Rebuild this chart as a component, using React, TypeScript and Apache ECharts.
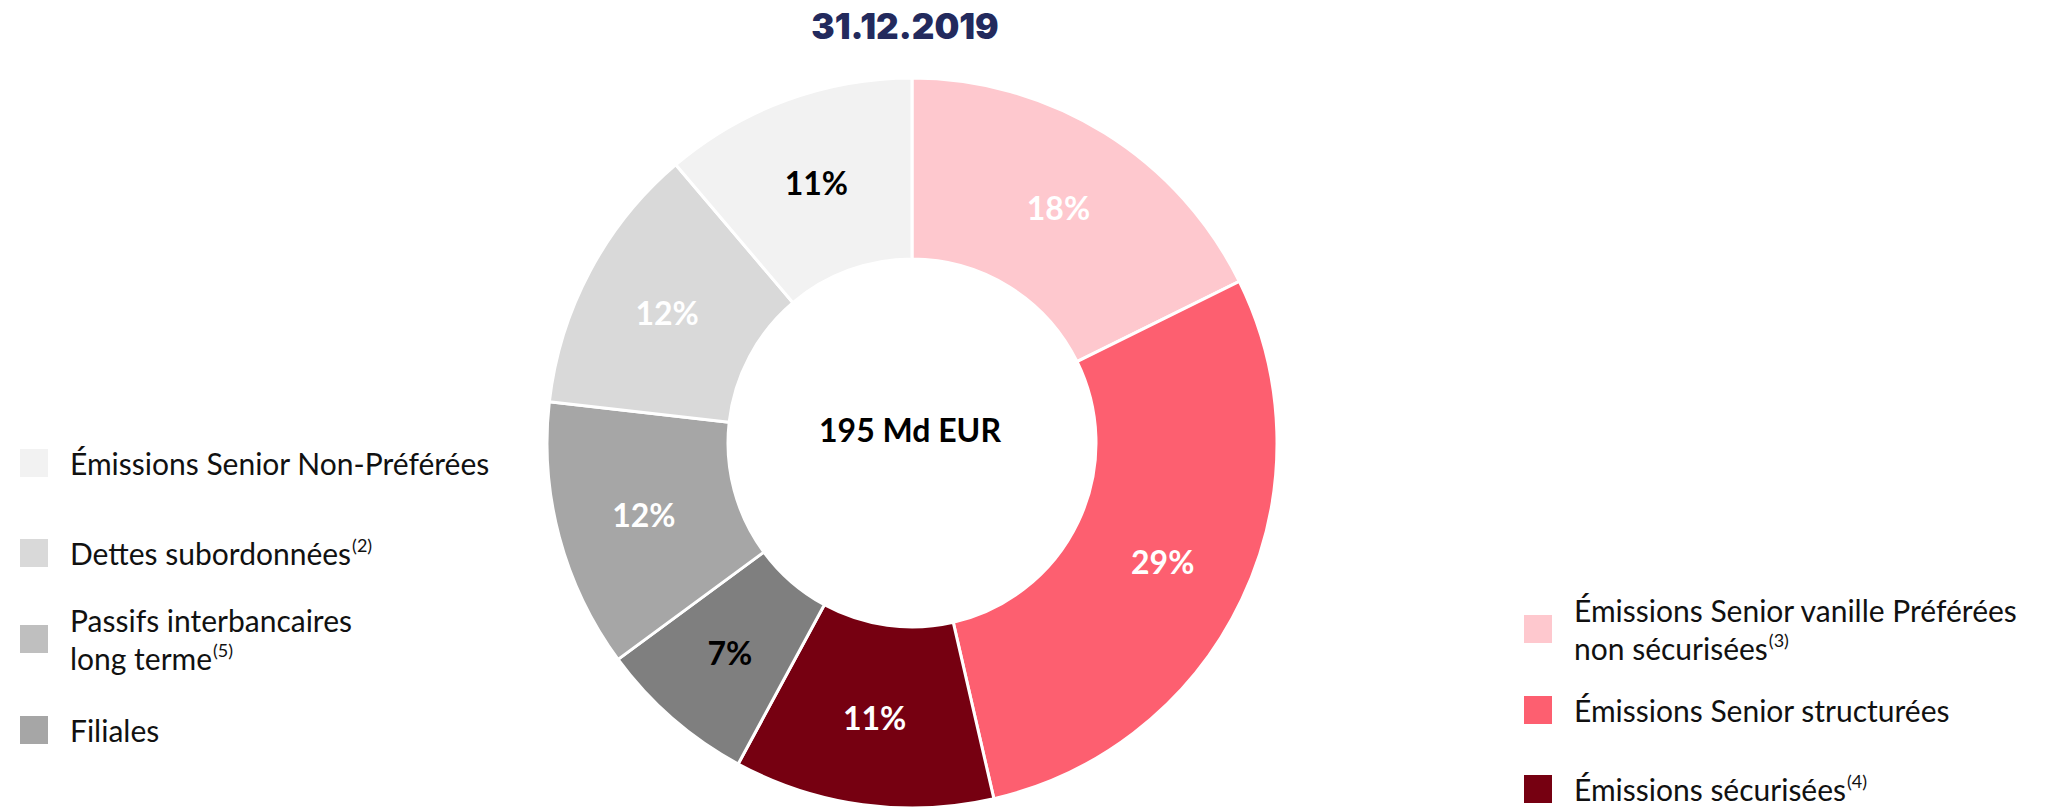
import React, { useEffect, useRef } from "react";
import * as echarts from "echarts";

const categories = [
  "Émissions Senior vanille Préférées non sécurisées",
  "Émissions Senior structurées",
  "Émissions sécurisées",
  "Filiales",
  "Passifs interbancaires long terme",
  "Dettes subordonnées",
  "Émissions Senior Non-Préférées",
];
const legendLines = [
  "Émissions Senior vanille Préférées\nnon sécurisées",
  "Émissions Senior structurées",
  "Émissions sécurisées",
  "Filiales",
  "Passifs interbancaires\nlong terme",
  "Dettes subordonnées",
  "Émissions Senior Non-Préférées",
];
const footnotes = ["(3)", "", "(4)", "", "(5)", "(2)", ""];
// slice shares as drawn
const values = [17.7, 28.7, 11.5, 7.0, 11.9, 12.0, 11.2];
// percentages as printed on the slices
const percentLabels = [18, 29, 11, 7, 12, 12, 11];
const sliceColors = ["#fec8ce", "#fd5f70", "#760011", "#7f7f7f", "#a6a6a6", "#d9d9d9", "#f2f2f2"];
const legendColors = ["#fec8ce", "#fd5f70", "#760011", "#a6a6a6", "#bfbfbf", "#d9d9d9", "#f2f2f2"];
const labelColors = ["#ffffff", "#ffffff", "#ffffff", "#000000", "#ffffff", "#ffffff", "#000000"];
const title = "31.12.2019";
const centerLabel = "195 Md EUR";

// legend placement: [left, iconCenterY]
const legendPos: [number, number][] = [
  [1522, 633],
  [1522, 713],
  [1522, 789],
  [18, 733],
  [18, 643],
  [18, 553],
  [18, 466],
];

const FONT = "Lato, 'Noto Sans', sans-serif";
const LINE_H = 38;

export default function App() {
  const ref = useRef<HTMLDivElement>(null);
  useEffect(() => {
    document.body.style.margin = "0";
    const chart = echarts.init(ref.current!, null, { renderer: "svg" });
    const legends = categories.map((name, i) => {
      const lines = legendLines[i].split("\n").length;
      return {
        orient: "vertical",
        left: legendPos[i][0],
        top: legendPos[i][1] - (lines * LINE_H) / 2,
        padding: 0,
        icon: "rect",
        itemWidth: 30,
        itemHeight: 30,
        selectedMode: false,
        data: [{ name, itemStyle: { color: legendColors[i] } }],
        formatter: () => {
          const t = legendLines[i]
            .split("\n")
            .map((l) => `{a|${l}}`)
            .join("\n");
          return footnotes[i] ? `${t}{s|${footnotes[i]}}` : t;
        },
        textStyle: {
          padding: [0, 0, 0, 16],
          rich: {
            a: { fontFamily: FONT, fontSize: 30, color: "#111111", lineHeight: LINE_H },
            s: { fontFamily: FONT, fontSize: 18, color: "#111111", lineHeight: LINE_H, verticalAlign: "top", padding: [2, 0, 0, 1] },
          },
        },
      };
    });
    chart.setOption({
      animation: false,
      legend: legends,
      graphic: [
        {
          type: "text",
          x: 905,
          y: 26,
          style: {
            text: title,
            fontFamily: "Inter, Lato, sans-serif",
            fontWeight: 900,
            fontSize: 35,
            fill: "#232a5d",
            textAlign: "center",
            textVerticalAlign: "middle",
          },
        },
        {
          type: "text",
          x: 910,
          y: 429,
          style: {
            text: centerLabel,
            fontFamily: FONT,
            fontWeight: "bold",
            fontSize: 32,
            fill: "#000000",
            textAlign: "center",
            textVerticalAlign: "middle",
          },
        },
      ],
      series: [
        {
          type: "pie",
          center: [912, 443],
          radius: [184, 365],
          startAngle: 90,
          clockwise: true,
          avoidLabelOverlap: false,
          itemStyle: { borderColor: "#ffffff", borderWidth: 3 },
          label: {
            show: true,
            position: "inside",
            formatter: (p: any) => `${percentLabels[p.dataIndex]}%`,
            fontFamily: FONT,
            fontWeight: "bold",
            fontSize: 32,
          },
          labelLine: { show: false },
          emphasis: { disabled: true },
          data: categories.map((name, i) => ({
            name,
            value: values[i],
            itemStyle: { color: sliceColors[i] },
            label: { color: labelColors[i] },
          })),
        },
      ],
    });
    return () => chart.dispose();
  }, []);
  return <div ref={ref} style={{ width: 2057, height: 809 }} />;
}
